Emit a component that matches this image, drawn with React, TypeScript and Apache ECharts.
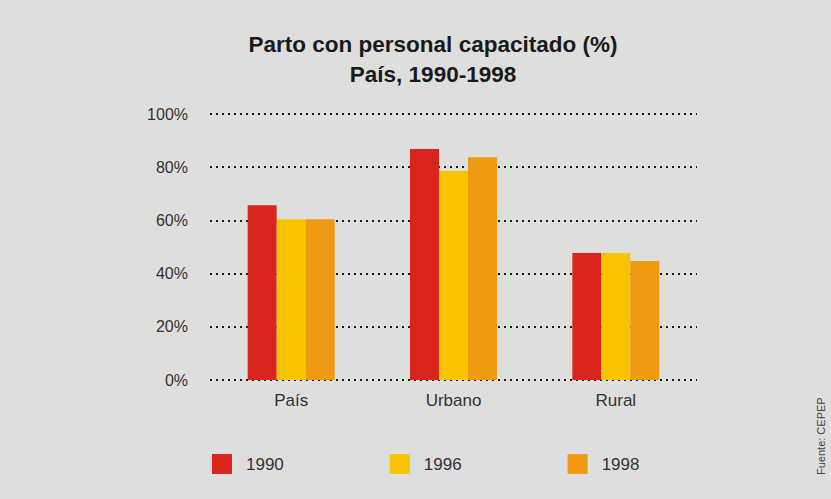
import React, { useEffect, useRef } from "react";
import * as echarts from "echarts";

const categories = ["País", "Urbano", "Rural"];
const seriesNames = ["1990", "1996", "1998"];
const values1990 = [65.7, 86.8, 47.7];
const values1996 = [60.4, 78.6, 47.7];
const values1998 = [60.4, 83.7, 44.7];
const colors = ["#da251d", "#f8c300", "#ee9a12"];

export default function App() {
  const ref = useRef<HTMLDivElement>(null);
  useEffect(() => {
    if (!ref.current) return;
    const chart = echarts.init(ref.current, null, { renderer: "svg" });
    const data = [values1990, values1996, values1998];
    chart.setOption({
      animation: false,
      backgroundColor: "#dededd",
      title: {
        text: "Parto con personal capacitado (%)\nPaís, 1990-1998",
        left: 428,
        textAlign: "center",
        top: 24,
        textStyle: {
          fontFamily: "Liberation Sans, Arial, sans-serif",
          fontWeight: "bold",
          fontSize: 22.5,
          lineHeight: 30,
          color: "#1a1a1a",
        },
      },
      legend: {
        data: seriesNames,
        left: 207,
        top: 449,
        itemWidth: 20,
        itemHeight: 20,
        itemGap: 106,
        icon: "rect",
        textStyle: {
          fontFamily: "Liberation Sans, Arial, sans-serif",
          fontSize: 17,
          color: "#333",
          padding: [0, 0, 0, 9],
        },
      },
      grid: { left: 210, right: 134, top: 114, bottom: 119 },
      xAxis: {
        type: "category",
        data: categories,
        axisLine: { show: false },
        axisTick: { show: false },
        axisLabel: {
          fontFamily: "Liberation Sans, Arial, sans-serif",
          fontSize: 17,
          color: "#333",
          margin: 12,
        },
      },
      yAxis: {
        type: "value",
        min: 0,
        max: 100,
        interval: 20,
        axisLine: { show: false },
        axisTick: { show: false },
        axisLabel: {
          formatter: "{value}%",
          fontFamily: "Liberation Sans, Arial, sans-serif",
          fontSize: 16,
          color: "#333",
          margin: 22,
        },
        splitLine: {
          lineStyle: { color: "#1a1a1a", width: 2, type: [2, 4] },
        },
      },
      series: seriesNames.map((name, i) => ({
        name,
        type: "bar",
        data: data[i],
        barWidth: 29,
        barGap: "0%",
        itemStyle: { color: colors[i] },
      })),
      graphic: [
        {
          type: "text",
          x: 815,
          y: 475,
          rotation: Math.PI / 2,
          style: {
            text: "Fuente: CEPEP",
            fontFamily: "Liberation Sans, Arial, sans-serif",
            fontSize: 11,
            fill: "#444",
          },
        },
      ],
    });
    return () => chart.dispose();
  }, []);
  return (
    <div
      ref={ref}
      style={{ position: "fixed", left: 0, top: 0, width: 831, height: 499 }}
    />
  );
}
